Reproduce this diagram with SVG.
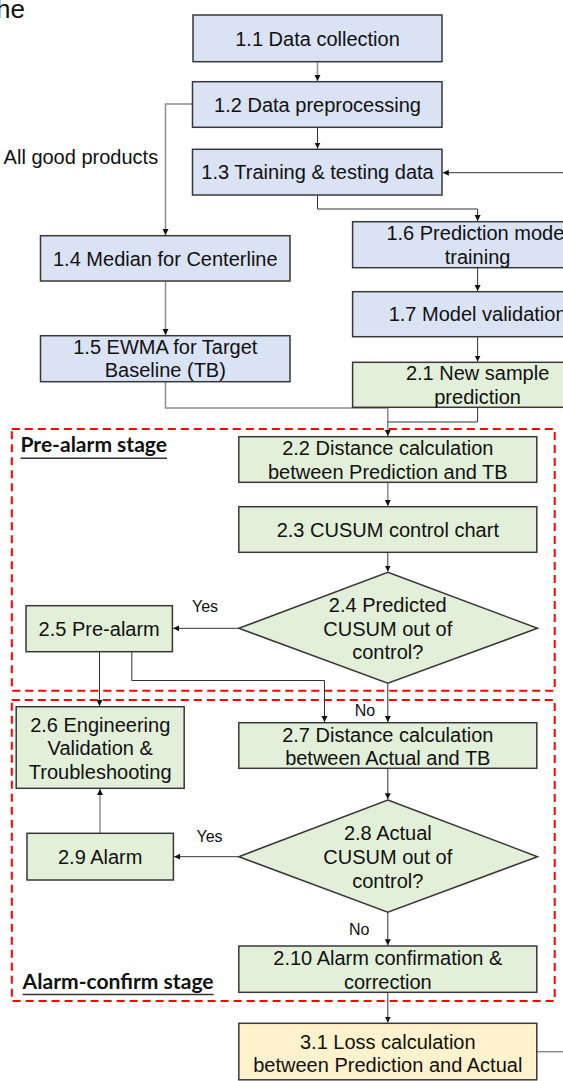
<svg xmlns="http://www.w3.org/2000/svg" width="563" height="1081" viewBox="0 0 563 1081">
  <style>
    .box { stroke: #383838; stroke-width: 1.5; }
    .blue { fill: #dae3f3; }
    .green { fill: #e2f0d9; }
    .orange { fill: #fff2cc; }
    .t { font-family: "Liberation Sans", Arial, sans-serif; font-size: 20px; fill: #111; text-anchor: middle; }
    .lbl { font-family: "Liberation Sans", Arial, sans-serif; font-size: 16px; fill: #111; text-anchor: middle; }
    .stage { font-family: Lato, "Open Sans", sans-serif; font-weight: bold; font-size: 20px; fill: #111; }
    .ul { stroke: #333; stroke-width: 1.5; }
    .zone { fill: none; stroke: #ff0000; stroke-width: 2; stroke-dasharray: 8 5; }
    .c { fill: none; stroke: #333; stroke-width: 1; }
    .g { fill: none; stroke: #8c8c8c; stroke-width: 1.5; }
  </style>
  <defs>
    <marker id="arrow" markerUnits="userSpaceOnUse" markerWidth="7" markerHeight="7" refX="6" refY="3" orient="auto">
      <path d="M0,0 L6,3 L0,6 z" fill="#111"/>
    </marker>
  </defs>

  <rect width="563" height="1081" fill="#ffffff"/>

  <!-- heading fragment at the top-left corner -->
  <text x="-4" y="18" font-family="Liberation Sans, Arial, sans-serif" font-size="26" fill="#111">he</text>

  <!-- stage zones -->
  <g id="zones">
    <rect class="zone" x="11.8" y="429" width="542.9" height="261.7"/>
    <rect class="zone" x="11.8" y="700" width="542.9" height="301"/>
    <text class="stage" x="20.5" y="452.3" textLength="146.5" lengthAdjust="spacingAndGlyphs">Pre-alarm stage</text>
    <line class="ul" x1="20.5" y1="458.3" x2="167" y2="458.3"/>
    <text class="stage" x="22.6" y="989" textLength="191" lengthAdjust="spacingAndGlyphs">Alarm-confirm stage</text>
    <line class="ul" x1="22.6" y1="994.5" x2="213.6" y2="994.5"/>
  </g>

  <!-- connectors -->
  <g id="connectors">
    <path class="g" d="M317.5,61.7 V81" marker-end="url(#arrow)"/>
    <path class="c" d="M317.5,127.3 V148.6" marker-end="url(#arrow)"/>
    <path class="g" d="M192,104 H165.5 V235" marker-end="url(#arrow)"/>
    <path class="c" d="M563,172.7 H442.8" marker-end="url(#arrow)"/>
    <path class="c" d="M317.5,195 V209 H477.6 V221" marker-end="url(#arrow)"/>
    <path class="c" d="M477.6,267.7 V291" marker-end="url(#arrow)"/>
    <path class="c" d="M477.6,336.7 V361.6" marker-end="url(#arrow)"/>
    <path class="g" d="M165.5,281 V335" marker-end="url(#arrow)"/>
    <path class="g" d="M165.5,381.7 V408 H387.8 V436" marker-end="url(#arrow)"/>
    <path class="c" d="M477.6,407.3 V422 H387.8"/>
    <path class="g" d="M387.8,482.3 V506" marker-end="url(#arrow)"/>
    <path class="c" d="M387.8,552.3 V571.6" marker-end="url(#arrow)"/>
    <path class="c" d="M238.8,628.3 H173.2" marker-end="url(#arrow)"/>
    <path class="c" d="M99.5,651.7 V706" marker-end="url(#arrow)"/>
    <path class="c" d="M131.8,651.7 V680.5 H324.5 V722" marker-end="url(#arrow)"/>
    <path class="c" d="M387.8,683.3 V722" marker-end="url(#arrow)"/>
    <path class="c" d="M387.8,768.3 V799.3" marker-end="url(#arrow)"/>
    <path class="c" d="M238.8,856.7 H174.2" marker-end="url(#arrow)"/>
    <path class="g" d="M100,833.3 V789" marker-end="url(#arrow)"/>
    <path class="c" d="M387.8,912.3 V945.3" marker-end="url(#arrow)"/>
    <path class="c" d="M387.8,992.3 V1022.6" marker-end="url(#arrow)"/>
    <path class="g" d="M537,1051.7 H563"/>
    <text class="lbl" x="205" y="612.4">Yes</text>
    <text class="lbl" x="209.5" y="841.5">Yes</text>
    <text class="lbl" x="365" y="716">No</text>
    <text class="lbl" x="359.3" y="935">No</text>
  </g>

  <!-- preparation nodes -->
  <g id="n1-1">
    <rect class="box blue" x="193" y="15" width="249" height="46.7"/>
    <text class="t" x="317.5" y="45.5">1.1 Data collection</text>
  </g>
  <g id="n1-2">
    <rect class="box blue" x="192.5" y="81.7" width="249.5" height="45.6"/>
    <text class="t" x="317.5" y="111.5">1.2 Data preprocessing</text>
  </g>
  <g id="n1-3">
    <rect class="box blue" x="192.5" y="149.3" width="249.5" height="45.7"/>
    <text class="t" x="317.5" y="179">1.3 Training &amp; testing data</text>
  </g>
  <text class="t" x="3.6" y="164" style="text-anchor:start">All good products</text>
  <g id="n1-4">
    <rect class="box blue" x="40.5" y="235.7" width="249.5" height="45.3"/>
    <text class="t" x="165.3" y="265.5">1.4 Median for Centerline</text>
  </g>
  <g id="n1-5">
    <rect class="box blue" x="40.5" y="335.7" width="249.5" height="46"/>
    <text class="t" x="165.3" y="353.7">1.5 EWMA for Target</text>
    <text class="t" x="165.3" y="377">Baseline (TB)</text>
  </g>
  <g id="n1-6">
    <rect class="box blue" x="352.6" y="221.7" width="250" height="46"/>
    <text class="t" x="477.6" y="239.5">1.6 Prediction model</text>
    <text class="t" x="477.6" y="263.5">training</text>
  </g>
  <g id="n1-7">
    <rect class="box blue" x="352.6" y="291.7" width="250" height="45"/>
    <text class="t" x="477.6" y="321">1.7 Model validation</text>
  </g>

  <!-- monitoring nodes -->
  <g id="n2-1">
    <rect class="box green" x="352.6" y="362.3" width="250" height="45"/>
    <text class="t" x="477.6" y="380.3">2.1 New sample</text>
    <text class="t" x="477.6" y="403.7">prediction</text>
  </g>
  <g id="n2-2">
    <rect class="box green" x="238.8" y="436.7" width="298" height="45.6"/>
    <text class="t" x="387.8" y="455.3">2.2 Distance calculation</text>
    <text class="t" x="387.8" y="479.3">between Prediction and TB</text>
  </g>
  <g id="n2-3">
    <rect class="box green" x="238.8" y="506.7" width="298" height="45.6"/>
    <text class="t" x="387.8" y="537">2.3 CUSUM control chart</text>
  </g>
  <g id="n2-4">
    <polygon class="box green" points="387.8,572.3 537.5,628.3 387.8,683.3 238.8,628.3"/>
    <text class="t" x="387.8" y="612">2.4 Predicted</text>
    <text class="t" x="387.8" y="635.5">CUSUM out of</text>
    <text class="t" x="387.8" y="659">control?</text>
  </g>
  <g id="n2-5">
    <rect class="box green" x="26" y="605.7" width="146.4" height="46"/>
    <text class="t" x="99.2" y="636.3">2.5 Pre-alarm</text>
  </g>
  <g id="n2-6">
    <rect class="box green" x="16.2" y="706.7" width="168" height="81.6"/>
    <text class="t" x="100.2" y="732">2.6 Engineering</text>
    <text class="t" x="100.2" y="755.3">Validation &amp;</text>
    <text class="t" x="100.2" y="778.7">Troubleshooting</text>
  </g>
  <g id="n2-7">
    <rect class="box green" x="238.8" y="722.7" width="298" height="45.6"/>
    <text class="t" x="387.8" y="742">2.7 Distance calculation</text>
    <text class="t" x="387.8" y="765.3">between Actual and TB</text>
  </g>
  <g id="n2-8">
    <polygon class="box green" points="387.8,800 537.5,856.7 387.8,912.3 238.8,856.7"/>
    <text class="t" x="387.8" y="840.3">2.8 Actual</text>
    <text class="t" x="387.8" y="863.7">CUSUM out of</text>
    <text class="t" x="387.8" y="887.7">control?</text>
  </g>
  <g id="n2-9">
    <rect class="box green" x="27" y="833.3" width="146.4" height="46.7"/>
    <text class="t" x="100.2" y="863.7">2.9 Alarm</text>
  </g>
  <g id="n2-10">
    <rect class="box green" x="238.8" y="946" width="298" height="46.3"/>
    <text class="t" x="387.8" y="965.3">2.10 Alarm confirmation &amp;</text>
    <text class="t" x="387.8" y="989.3">correction</text>
  </g>

  <!-- evaluation node -->
  <g id="n3-1">
    <rect class="box orange" x="238.8" y="1023.3" width="298" height="56.5"/>
    <text class="t" x="387.8" y="1048.7">3.1 Loss calculation</text>
    <text class="t" x="387.8" y="1072">between Prediction and Actual</text>
  </g>
</svg>
